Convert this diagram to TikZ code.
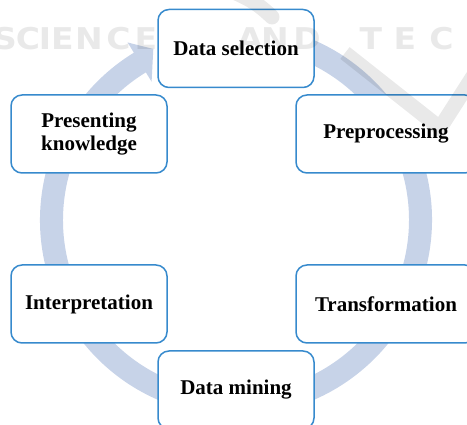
\documentclass[tikz,border=0pt]{standalone}
\usepackage{fontspec}
\setmainfont{Liberation Serif}
\newfontfamily\wmfont{DejaVu Sans}[FakeStretch=1.1]
\definecolor{cyclefill}{RGB}{199,211,232}
\definecolor{boxline}{RGB}{55,138,205}
\tikzset{
  stage/.style={draw=boxline, line width=1.5pt, fill=white, rounded corners=11pt,
    minimum width=156pt, minimum height=78pt, align=center, inner sep=0pt,
    font=\bfseries\fontsize{21}{23}\selectfont},
  widestage/.style={minimum width=180pt},
  wm/.style={text=black, text opacity=0.085, inner sep=0pt,
    font=\wmfont\bfseries\fontsize{30}{30}\selectfont},
  wmstroke/.style={draw=black, draw opacity=0.085, line width=15pt},
}
\begin{document}
\begin{tikzpicture}[x=1pt,y=1pt]
\useasboundingbox (0,0) rectangle (467,425);
\clip (0,0) rectangle (467,425);

% circular arrow behind the stages (clockwise)
\fill[cyclefill, shift={(236,205)}]
  (80:196) arc[start angle=80, end angle=-238.6, radius=196]
  -- (-238.6:208) -- (-244.2:190) -- (-238.6:162) -- (-238.6:173)
  arc[start angle=-238.6, end angle=80, radius=173] -- cycle;

% stages
\node[stage] (sel) at (236,376.5) {Data selection};
\node[stage, widestage] (pre) at (386,291) {Preprocessing};
\node[stage, widestage] (tra) at (386,121) {Transformation};
\node[stage] (min) at (236,35) {Data mining};
\node[stage] (int) at (89,121) {Interpretation};
\node[stage] (pk) at (89,291) {Presenting\\knowledge};

% faint overlay mark
\draw[wmstroke, line cap=round] (236,432) to[bend left=10] (272,408);
\draw[wmstroke, line join=miter] (345,372) -- (440,297) -- (488,372);
\foreach \ch/\px [count=\i] in {S/5,C/28,I/45,E/62.5,N/89,C/118.5,E/146,
    A/250,N/275,D/307,T/371,E/405,C/441.5}
  \node[wm] (wm\i) at (\px,386) {\ch};
\end{tikzpicture}
\end{document}
